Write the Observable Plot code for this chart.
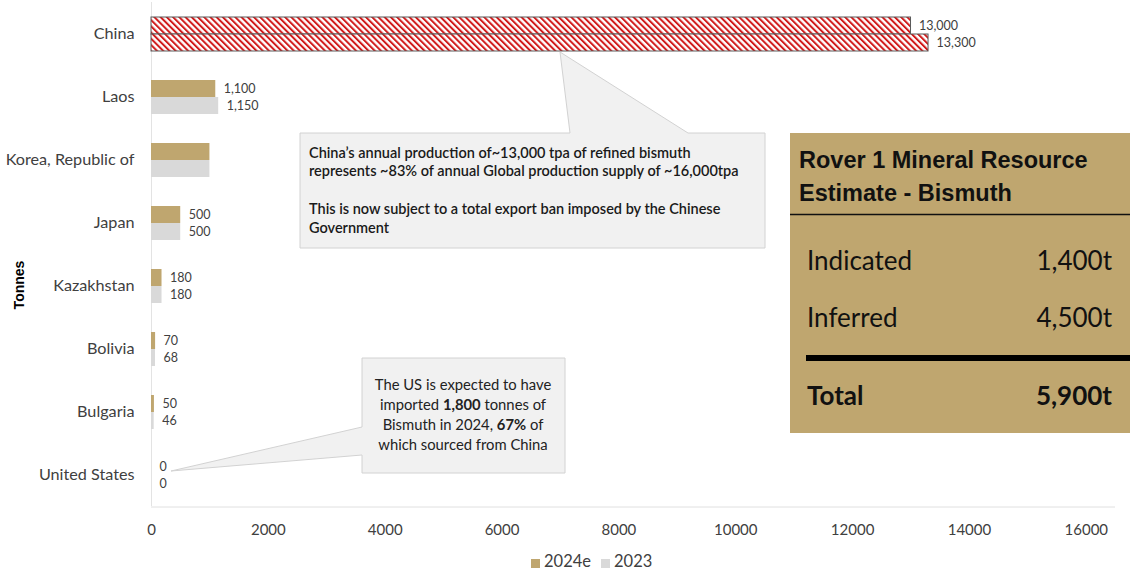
<!DOCTYPE html>
<html>
<head>
<meta charset="utf-8">
<script src="https://cdn.jsdelivr.net/npm/d3@7"></script>
<script src="https://cdn.jsdelivr.net/npm/@observablehq/plot@0.6"></script>
<style>
  html, body { margin: 0; padding: 0; background: #fff; }
  #wrap { position: relative; width: 1130px; height: 570px; overflow: hidden; font-family: Lato, "Open Sans", sans-serif; }
  #legend { position: absolute; left: 0; top: 553px; width: 1130px; box-sizing: border-box; padding-left: 526px; text-align: left; font-size: 16.5px; color: #404040; line-height: 17px; font-family: Lato, sans-serif; }
  #legend span.sw { display: inline-block; width: 9px; height: 9px; margin-right: 4px; vertical-align: -1px; }
  #legend span.it { margin: 0 5px; }
  #overlay { position: absolute; left: 0; top: 0; pointer-events: none; }
</style>
</head>
<body>
<div id="wrap"></div>
<script>
// ---- data ----
const countries = ["China", "Laos", "Korea, Republic of", "Japan", "Kazakhstan", "Bolivia", "Bulgaria", "United States"];
const values2024e = [13000, 1100, 1000, 500, 180, 70, 50, 0];
const values2023 = [13300, 1150, 1000, 500, 180, 68, 46, 0];
const showLabel = [true, true, false, true, true, true, true, true];
const series = ["2024e", "2023"];
const xTicks = [0, 2000, 4000, 6000, 8000, 10000, 12000, 14000, 16000];
const seriesColors = ["#BFA66F", "#D9D9D9"];

const fmt = d3.format(",");
const rows = countries.flatMap((c, i) => [
  {country: c, series: "2024e", value: values2024e[i], label: showLabel[i] ? fmt(values2024e[i]) : ""},
  {country: c, series: "2023", value: values2023[i], label: showLabel[i] ? fmt(values2023[i]) : ""}
]);

const W = 1130, H = 550, mL = 151, mR = 15, mT = 1, mB = 43;

const wrap = document.getElementById("wrap");

// hatch pattern defs
const defs = document.createElementNS("http://www.w3.org/2000/svg", "svg");
defs.setAttribute("width", 0); defs.setAttribute("height", 0);
defs.style.position = "absolute";
defs.innerHTML = `<defs><pattern id="hatch" patternUnits="userSpaceOnUse" width="4.4" height="4.4" patternTransform="rotate(-45)">
  <rect width="4.4" height="4.4" fill="#ffffff"></rect>
  <rect x="0" y="0" width="2" height="4.4" fill="#D11A1A"></rect></pattern></defs>`;
wrap.appendChild(defs);

const chart = Plot.plot({
  width: W, height: H,
  marginLeft: mL, marginRight: mR, marginTop: mT, marginBottom: mB,
  style: {fontFamily: "Lato, 'Open Sans', sans-serif", color: "#404040", background: "transparent"},
  x: {domain: [0, 16500], label: null},
  fy: {domain: countries, padding: 0, label: null},
  y: {domain: series, paddingInner: 0, paddingOuter: 0.85, axis: null},
  color: {domain: series, range: seriesColors},
  marks: [
    Plot.ruleX([0], {stroke: "#E3E3E3", strokeWidth: 1}),
    Plot.barX(rows.filter(d => d.country !== "China"), {fy: "country", y: "series", x: "value", fill: "series"}),
    Plot.barX(rows.filter(d => d.country === "China"), {fy: "country", y: "series", x: "value", fill: "url(#hatch)", stroke: "#5A5A5A", strokeWidth: 1}),
    Plot.text(rows, {fy: "country", y: "series", x: "value", text: "label", dx: 8, textAnchor: "start", fontSize: 12.5, fill: "#404040"}),
    Plot.axisX({ticks: xTicks, tickFormat: d => String(d), tickSize: 0, tickPadding: 18, fontSize: 15, fill: "#404040", label: null}),
    Plot.axisFy({anchor: "left", tickSize: 0, tickPadding: 17, fontSize: 16.2, fill: "#404040", label: null})
  ]
});
wrap.appendChild(chart);

// legend
const legend = document.createElement("div");
legend.id = "legend";
legend.innerHTML = series.map((s, i) => `<span class="it"><span class="sw" style="background:${seriesColors[i]}"></span>${s}</span>`).join("");
wrap.appendChild(legend);

// overlay annotations
const ov = document.createElementNS("http://www.w3.org/2000/svg", "svg");
ov.id = "overlay";
ov.setAttribute("width", W); ov.setAttribute("height", 570);
const yBottom = H - mB;
ov.innerHTML = `
  <line x1="${mL}" x2="1115" y1="${yBottom}" y2="${yBottom}" stroke="#E0E0E0" stroke-width="1"/>
  <text transform="translate(24,285) rotate(-90)" text-anchor="middle" font-family="'Liberation Sans', Arial, sans-serif" font-weight="bold" font-size="14" fill="#000">Tonnes</text>

  <path d="M300,133 H570 L560,52 L688,133 H765 V248 H300 Z" fill="#F1F1F1" stroke="#D2D2D2" stroke-width="1"/>
  <g font-family="Lato, sans-serif" font-size="14.5" font-weight="600" fill="#1A1A1A">
    <text x="309" y="158">China’s annual production of~13,000 tpa of refined bismuth</text>
    <text x="309" y="176">represents ~83% of annual Global production supply of ~16,000tpa</text>
    <text x="309" y="214">This is now subject to a total export ban imposed by the Chinese</text>
    <text x="309" y="233">Government</text>
  </g>

  <path d="M362,358 H565 V473 H362 V455 L171,471 L362,427 Z" fill="#F1F1F1" stroke="#D2D2D2" stroke-width="1"/>
  <g font-family="Lato, sans-serif" font-size="14.8" fill="#222" text-anchor="middle">
    <text x="463" y="390">The US is expected to have</text>
    <text x="463" y="410">imported <tspan font-weight="bold">1,800</tspan> tonnes of</text>
    <text x="463" y="430">Bismuth in 2024, <tspan font-weight="bold">67%</tspan> of</text>
    <text x="463" y="450">which sourced from China</text>
  </g>

  <rect x="790" y="133" width="340" height="300" fill="#BFA66F"/>
  <g font-family="'Liberation Sans', Arial, sans-serif" font-weight="bold" font-size="23.5" fill="#111">
    <text x="799" y="168">Rover 1 Mineral Resource</text>
    <text x="799" y="201">Estimate - Bismuth</text>
  </g>
  <line x1="790" x2="1130" y1="214.5" y2="214.5" stroke="#111" stroke-width="1.5"/>
  <g font-family="Lato, sans-serif" font-size="26" fill="#111">
    <text x="807" y="270">Indicated</text>
    <text x="1112" y="270" text-anchor="end">1,400t</text>
    <text x="807" y="327">Inferred</text>
    <text x="1112" y="327" text-anchor="end">4,500t</text>
  </g>
  <line x1="806" x2="1130" y1="358" y2="358" stroke="#000" stroke-width="6"/>
  <g font-family="Lato, sans-serif" font-size="26" font-weight="bold" fill="#111">
    <text x="807" y="405">Total</text>
    <text x="1112" y="405" text-anchor="end">5,900t</text>
  </g>
`;
wrap.appendChild(ov);
</script>
</body>
</html>
